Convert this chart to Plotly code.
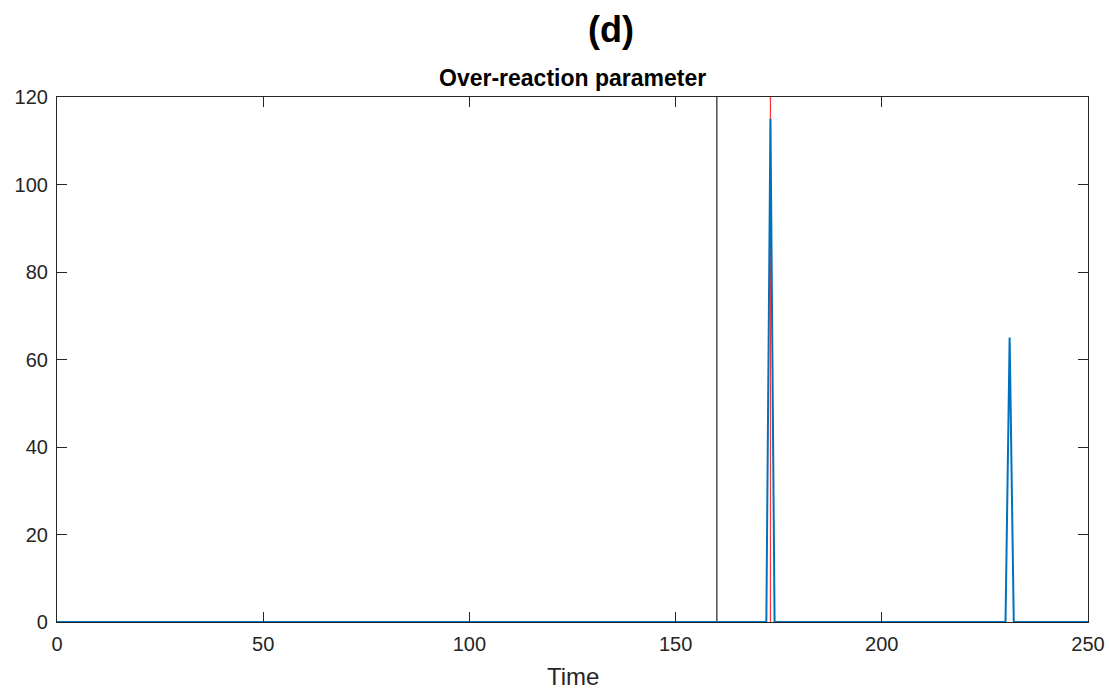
import plotly.graph_objects as go

# Data
time_points = [0, 172, 173, 174, 230, 231, 232, 250]
over_reaction = [0, 0, 115, 0, 0, 65, 0, 0]
black_line_x = 160
red_line_x = 173
x_ticks = [0, 50, 100, 150, 200, 250]
y_ticks = [0, 20, 40, 60, 80, 100, 120]

FONT = "Liberation Sans, Arial, Helvetica"

fig = go.Figure()
fig.add_trace(go.Scatter(x=[black_line_x, black_line_x], y=[0, 120], mode="lines",
                         line=dict(color="#222222", width=1.2), showlegend=False))
fig.add_trace(go.Scatter(x=[red_line_x, red_line_x], y=[0, 120], mode="lines",
                         line=dict(color="#ff3333", width=1.2), showlegend=False))
fig.add_trace(go.Scatter(x=time_points, y=over_reaction, mode="lines",
                         line=dict(color="#0072BD", width=2), showlegend=False))

axis_common = dict(showline=True, linecolor="#262626", linewidth=1.2, mirror="ticks",
                   ticks="inside", ticklen=10, tickcolor="#262626", showgrid=False,
                   zeroline=False, tickfont=dict(family=FONT, size=20, color="#262626"))

fig.update_xaxes(range=[0, 250], tickvals=x_ticks, ticklabelstandoff=4, **axis_common)
fig.update_yaxes(range=[0, 120], tickvals=y_ticks, ticklabelstandoff=4, **axis_common)

fig.update_layout(
    width=1109, height=689,
    margin=dict(l=57, r=21, t=97, b=67, autoexpand=False),
    plot_bgcolor="white", paper_bgcolor="white",
    annotations=[
        dict(text="<b>(d)</b>", x=0.5, y=1, xref="paper", yref="paper", yshift=68, xshift=38,
             showarrow=False, font=dict(family=FONT, size=36, color="#000000"),
             xanchor="center", yanchor="middle"),
        dict(text="<b>Over-reaction parameter</b>", x=0.5, y=1, xref="paper", yref="paper", yshift=19,
             showarrow=False, font=dict(family=FONT, size=23, color="#000000"),
             xanchor="center", yanchor="middle"),
        dict(text="Time", x=0.5, y=0, xref="paper", yref="paper", yshift=-54,
             showarrow=False, font=dict(family=FONT, size=24, color="#262626"),
             xanchor="center", yanchor="middle"),
    ],
)

fig.write_html("out.html", config={"displayModeBar": False},
               post_script="document.body.style.margin='0';document.body.style.overflow='hidden';")
